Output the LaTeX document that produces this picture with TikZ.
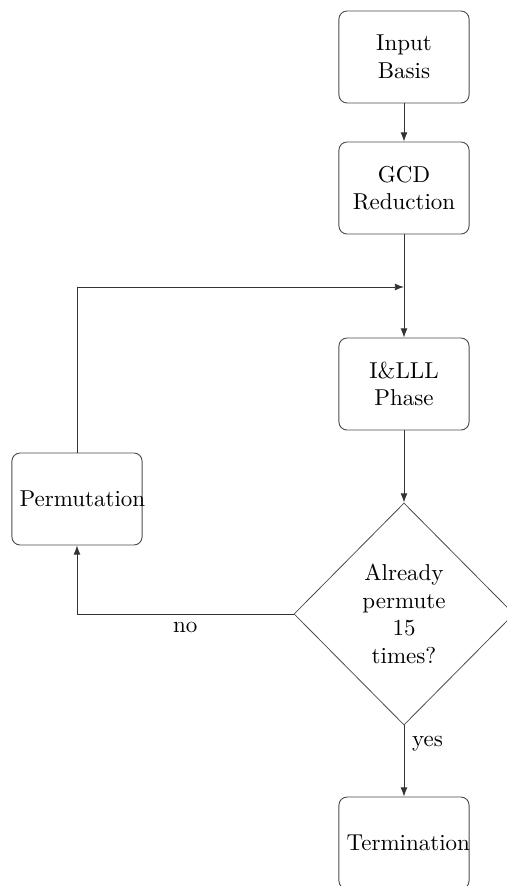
\documentclass[tikz,border=0pt]{standalone}
\usetikzlibrary{shapes.geometric,arrows.meta}
\begin{document}
\begin{tikzpicture}[x=0.435pt,y=-0.435pt,
  stepbox/.style={draw=black!70, rounded corners=3.5pt, minimum width=56.6pt, minimum height=40pt,
    text width=49.9pt, align=center, inner sep=3.33pt, line width=0.4pt},
  decision/.style={draw=black!70, diamond, aspect=1, minimum width=95.7pt, minimum height=96.6pt,
    inner sep=0pt, align=center, line width=0.35pt},
  flow/.style={draw=black!80, -{Latex[length=4pt,width=3pt]}, line width=0.4pt}]
  \useasboundingbox (0,0) rectangle (507,886);

  \node[stepbox] (input) at (404,57) {Input\\Basis};
  \node[stepbox] (gcd) at (404,188) {GCD\\Reduction};
  \node[stepbox] (ill) at (404,384) {I\&LLL\\Phase};
  \node[stepbox] (perm) at (77,499) {Permutation};
  \node[decision] (check) at (404,614) {Already\\permute\\15\\times?};
  \node[stepbox] (term) at (404,843) {Termination};

  \coordinate (merge) at (404,287);

  \draw[flow] (input) -- (gcd);
  \draw[flow] (gcd) -- (ill);
  \draw[flow] (ill) -- (check);
  \draw[flow] (check.south) -- node[right, pos=0.25] {yes} (term);
  \draw[flow] (check.west) -- node[below, pos=0.5] {no} (perm.south |- check.west) -- (perm.south);
  \draw[flow] (perm.north) -- (perm.north |- merge) -- (merge);
\end{tikzpicture}
\end{document}
